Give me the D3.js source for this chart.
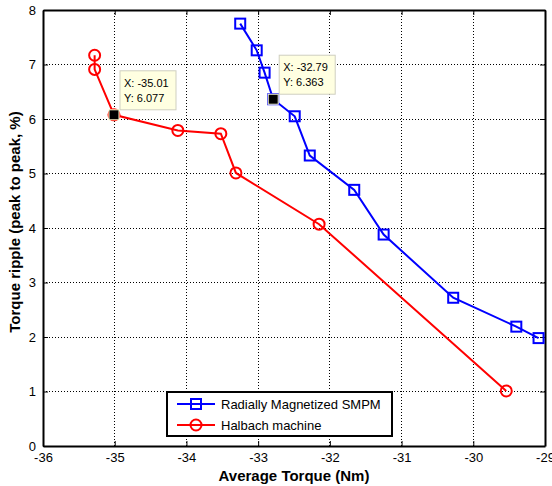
<!DOCTYPE html>
<html>
<head>
<meta charset="utf-8">
<script src="https://cdn.jsdelivr.net/npm/d3@7"></script>
<style>
  body { margin: 0; background: #fff; }
  svg { font-family: "Liberation Sans", Arial, sans-serif; }
</style>
</head>
<body>
<script>
// series
var radialX = [-33.25, -33.02, -32.91, -32.79, -32.49, -32.28, -31.66, -31.25, -30.28, -29.40, -29.09];
var radialY = [7.75, 7.26, 6.85, 6.363, 6.05, 5.33, 4.70, 3.88, 2.72, 2.19, 1.98];
var halbachX = [-35.28, -35.28, -35.01, -34.12, -33.52, -33.31, -32.15, -29.54];
var halbachY = [7.17, 6.91, 6.077, 5.79, 5.73, 5.01, 4.07, 1.01];
var xTicks = [-36, -35, -34, -33, -32, -31, -30, -29];
var yTicks = [0, 1, 2, 3, 4, 5, 6, 7, 8];
var seriesNames = ["Radially Magnetized SMPM", "Halbach machine"];
var tips = [
  {x: -35.01, y: 6.077, lx: "X: -35.01", ly: "Y: 6.077"},
  {x: -32.79, y: 6.363, lx: "X: -32.79", ly: "Y: 6.363"}
];

var width = 552, height = 486;
var margin = {left: 43, right: 7, top: 10, bottom: 40};

var svg = d3.select("body").append("svg")
    .attr("width", width).attr("height", height);

var x = d3.scaleLinear().domain([-36, -29]).range([margin.left, width - margin.right]);
var y = d3.scaleLinear().domain([0, 8]).range([height - margin.bottom, margin.top]);

var x0 = x(-36), x1 = x(-29), y0 = y(0), y1 = y(8);

// grid
var grid = svg.append("g");
grid.selectAll(".gx").data(xTicks.slice(1, -1)).enter().append("line")
    .attr("x1", d => x(d)).attr("x2", d => x(d)).attr("y1", y0).attr("y2", y1)
    .attr("stroke", "#000").attr("stroke-width", 1).attr("stroke-dasharray", "1,2")
    .attr("shape-rendering", "crispEdges");
grid.selectAll(".gy").data(yTicks.slice(1, -1)).enter().append("line")
    .attr("x1", x0).attr("x2", x1).attr("y1", d => y(d)).attr("y2", d => y(d))
    .attr("stroke", "#000").attr("stroke-width", 1).attr("stroke-dasharray", "1,2")
    .attr("shape-rendering", "crispEdges");

// axes, ticks inward on all sides
var fmt = d => String(d);
var xAxis = d3.axisBottom(x).tickValues(xTicks).tickFormat(fmt).tickSizeInner(-5).tickSizeOuter(0).tickPadding(7);
var yAxis = d3.axisLeft(y).tickValues(yTicks).tickFormat(fmt).tickSizeInner(-5).tickSizeOuter(0).tickPadding(7);
var xTop = d3.axisTop(x).tickValues(xTicks).tickSizeInner(-5).tickSizeOuter(0).tickFormat("");
var yRight = d3.axisRight(y).tickValues(yTicks).tickSizeInner(-5).tickSizeOuter(0).tickFormat("");

function styleAxis(g) {
  g.select(".domain").attr("stroke", "#000").attr("stroke-width", 2);
  g.selectAll(".tick line").attr("stroke", "#000");
  g.selectAll(".tick text").attr("fill", "#000").attr("font-size", "13px")
    .attr("font-family", "Liberation Sans, Arial, sans-serif");
}
svg.append("g").attr("transform", "translate(0," + y0 + ")").call(xAxis).call(styleAxis);
svg.append("g").attr("transform", "translate(" + x0 + ",0)").call(yAxis).call(styleAxis);
svg.append("g").attr("transform", "translate(0," + y1 + ")").call(xTop).call(styleAxis);
svg.append("g").attr("transform", "translate(" + x1 + ",0)").call(yRight).call(styleAxis);

// lines
var line = d3.line().x(d => x(d[0])).y(d => y(d[1]));
var radial = d3.zip(radialX, radialY);
var halbach = d3.zip(halbachX, halbachY);

svg.append("path").datum(halbach).attr("d", line)
    .attr("fill", "none").attr("stroke", "#ff0000").attr("stroke-width", 2);
svg.append("path").datum(radial).attr("d", line)
    .attr("fill", "none").attr("stroke", "#0000ff").attr("stroke-width", 2);

svg.selectAll(".hc").data(halbach).enter().append("circle")
    .attr("cx", d => x(d[0])).attr("cy", d => y(d[1])).attr("r", 5.5)
    .attr("fill", "none").attr("stroke", "#ff0000").attr("stroke-width", 2);
svg.selectAll(".rs").data(radial).enter().append("rect")
    .attr("x", d => x(d[0]) - 5).attr("y", d => y(d[1]) - 5)
    .attr("width", 10).attr("height", 10)
    .attr("fill", "none").attr("stroke", "#0000ff").attr("stroke-width", 2);

// data tips
var tipG = svg.selectAll(".tip").data(tips).enter().append("g");
tipG.append("rect")
    .attr("x", d => x(d.x) + 6).attr("y", d => y(d.y) - 44)
    .attr("width", 56).attr("height", 39)
    .attr("fill", "#ffffe1").attr("stroke", "#cfcfc0").attr("stroke-width", 1);
tipG.append("text").attr("x", d => x(d.x) + 10).attr("y", d => y(d.y) - 28)
    .attr("font-size", "11px").attr("fill", "#000").text(d => d.lx);
tipG.append("text").attr("x", d => x(d.x) + 10).attr("y", d => y(d.y) - 13)
    .attr("font-size", "11px").attr("fill", "#000").text(d => d.ly);
tipG.append("rect")
    .attr("x", d => x(d.x) - 5).attr("y", d => y(d.y) - 5)
    .attr("width", 10).attr("height", 10)
    .attr("fill", "#000").attr("stroke", "#ffffd0").attr("stroke-width", 1);

// legend
var lg = svg.append("g").attr("transform", "translate(167,392)");
lg.append("rect").attr("width", 225).attr("height", 44)
    .attr("fill", "#fff").attr("stroke", "#000").attr("stroke-width", 2);
var colors = ["#0000ff", "#ff0000"];
var rows = lg.selectAll(".row").data(seriesNames).enter().append("g")
    .attr("transform", (d, i) => "translate(0," + (12 + i * 21) + ")");
rows.append("line").attr("x1", 10).attr("x2", 48).attr("y1", 0).attr("y2", 0)
    .attr("stroke", (d, i) => colors[i]).attr("stroke-width", 2);
rows.filter((d, i) => i === 0).append("rect")
    .attr("x", 24).attr("y", -5).attr("width", 10).attr("height", 10)
    .attr("fill", "none").attr("stroke", "#0000ff").attr("stroke-width", 2);
rows.filter((d, i) => i === 1).append("circle")
    .attr("cx", 29).attr("cy", 0).attr("r", 5.5)
    .attr("fill", "none").attr("stroke", "#ff0000").attr("stroke-width", 2);
rows.append("text").attr("x", 54).attr("y", 5)
    .attr("font-size", "13px").attr("fill", "#000").text(d => d);

// axis labels
svg.append("text").attr("x", (x0 + x1) / 2).attr("y", 481)
    .attr("text-anchor", "middle").attr("font-size", "15px").attr("font-weight", "bold")
    .text("Average Torque (Nm)");
svg.append("text")
    .attr("transform", "translate(20,222) rotate(-90)")
    .attr("text-anchor", "middle").attr("font-size", "15px").attr("font-weight", "bold")
    .text("Torque ripple (peak to peak, %)");
</script>
</body>
</html>
